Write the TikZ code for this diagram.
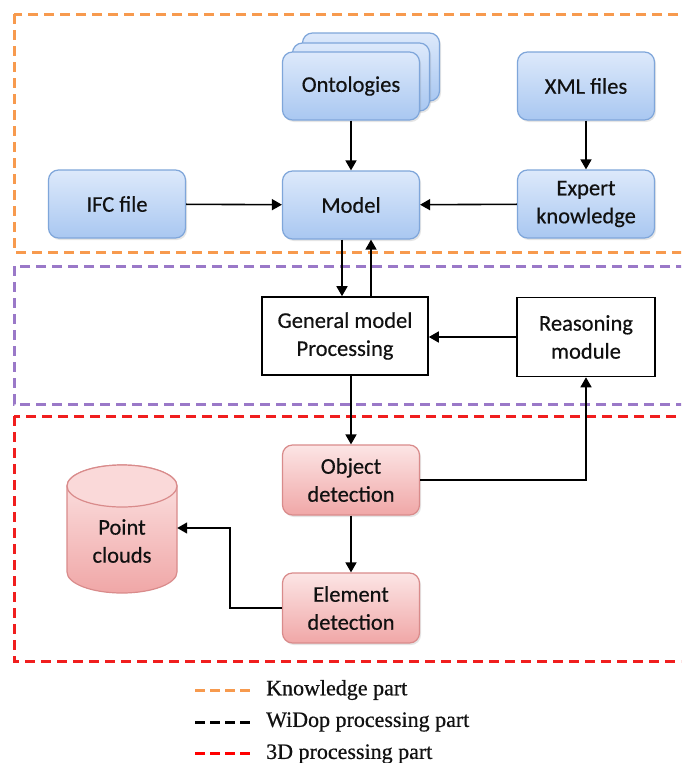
\documentclass[tikz,border=0pt]{standalone}
\usepackage{fontspec}
\setmainfont{Carlito}[FakeBold=0.4]
\newfontfamily\legfont{Liberation Serif}[FakeBold=0.6]
\usetikzlibrary{arrows.meta,shadows}
\definecolor{bluetop}{HTML}{DDE9FB}
\definecolor{bluebot}{HTML}{A9C7F1}
\definecolor{bluedraw}{HTML}{7FA6DA}
\definecolor{pinktop}{HTML}{FCE5E5}
\definecolor{pinkbot}{HTML}{F0A7A7}
\definecolor{pinkdraw}{HTML}{D98B8B}
\definecolor{orangeC}{HTML}{F79A4E}
\definecolor{purpleC}{HTML}{9A78C8}
\definecolor{redC}{HTML}{F01E1E}
\definecolor{txt}{HTML}{111111}
\newcommand{\nodefont}{\fontsize{22.5}{28}\selectfont}
\tikzset{
  blueb/.style={rounded corners=10pt, draw=bluedraw, line width=1.2pt, top color=bluetop, bottom color=bluebot,
    minimum width=137pt, minimum height=68pt, align=center, font=\nodefont, text=txt,
    drop shadow={opacity=0.2, shadow xshift=1.5pt, shadow yshift=-2pt}},
  pinkb/.style={rounded corners=10pt, draw=pinkdraw, line width=1.2pt, top color=pinktop, bottom color=pinkbot,
    minimum width=137pt, minimum height=70pt, align=center, font=\nodefont, text=txt,
    drop shadow={opacity=0.2, shadow xshift=1.5pt, shadow yshift=-2pt}},
  wbox/.style={draw=black, line width=1.6pt, fill=white, align=center, font=\nodefont, text=txt},
  arr/.style={-{Triangle[length=10pt,width=11pt]}, line width=1.6pt, black},
  frame/.style={line width=3pt, dash pattern=on 10pt off 6pt},
  legline/.style={line width=3pt, dash pattern=on 10pt off 5pt},
  legtext/.style={anchor=west, font=\legfont\fontsize{22}{26}\selectfont, text=txt, inner sep=0pt}
}
\begin{document}
\begin{tikzpicture}[x=1pt,y=-1pt]
\useasboundingbox (0,0) rectangle (681,763);
\clip (0,0) rectangle (681,763);
\fill[white] (0,0) rectangle (681,763);

% frames
\draw[frame, draw=orangeC] (14,14) rectangle (700,252);
\draw[frame, draw=purpleC] (14,266) rectangle (700,404);
\draw[frame, draw=redC] (14,416) rectangle (700,661);

% knowledge part
\node[blueb] (ont3) at (371,67) {};
\node[blueb] (ont2) at (361,77) {};
\node[blueb] (ont) at (351,86) {Ontologies};
\node[blueb] (model) at (351,205) {Model};
\node[blueb] (ifc) at (117,204) {IFC file};
\node[blueb] (xml) at (586,86) {XML files};
\node[blueb] (exp) at (586,204) {Expert\\knowledge};

% processing part
\node[wbox, minimum width=166pt, minimum height=78pt] (gmp) at (345,336) {General model\\Processing};
\node[wbox, minimum width=138pt, minimum height=79pt] (rm) at (586,337) {Reasoning\\module};

% 3D part
\node[pinkb] (od) at (351,480) {Object\\detection};
\node[pinkb] (ed) at (351,608) {Element\\detection};

% point clouds cylinder
\shade[top color=pinktop, bottom color=pinkbot, draw=pinkdraw, line width=1.2pt]
  (67,486) -- (67,572) arc[start angle=180, end angle=360, x radius=55, y radius=-21] -- (177,486)
  arc[start angle=0, end angle=180, x radius=55, y radius=-21] -- cycle;
\draw[draw=pinkdraw, line width=1.2pt, fill=pinktop!80!pinkbot] (122,486) ellipse[x radius=55, y radius=21];
\node[minimum width=110pt, minimum height=128pt, inner sep=0pt] (pc) at (122,528) {};
\node[align=center, font=\nodefont, text=txt] (pctext) at (122,541) {Point\\clouds};

% arrows
\draw[arr] (ont) -- (model);
\draw[arr] (ifc) -- (model);
\draw[arr] (exp) -- (model);
\draw[arr] (xml) -- (exp);
\draw[arr] ([xshift=-9pt]model.south) -- ([xshift=-9pt]model.south |- gmp.north);
\draw[arr] ([xshift=20pt]model.south |- gmp.north) -- ([xshift=20pt]model.south);
\draw[arr] (rm.west) -- (rm.west -| gmp.east);
\draw[arr] (gmp.south -| od.north) -- (od.north);
\draw[arr] (od.east) -| (rm.south);
\draw[arr] (od) -- (ed);
\coordinate (bend) at (230,528);
\draw[arr] (ed.west) -| (bend) -- (pc.east);

% legend
\coordinate (la1) at (195,690); \coordinate (lb1) at (252,690);
\coordinate (la2) at (195,722); \coordinate (lb2) at (252,722);
\coordinate (la3) at (195,753); \coordinate (lb3) at (252,753);
\draw[legline, draw=orangeC] (la1) -- (lb1);
\draw[legline, draw=black] (la2) -- (lb2);
\draw[legline, draw=red] (la3) -- (lb3);
\node[legtext] (t1) at (266,690) {Knowledge part};
\node[legtext] (t2) at (266,722) {WiDop processing part};
\node[legtext] (t3) at (266,754) {3D processing part};
\end{tikzpicture}
\end{document}
